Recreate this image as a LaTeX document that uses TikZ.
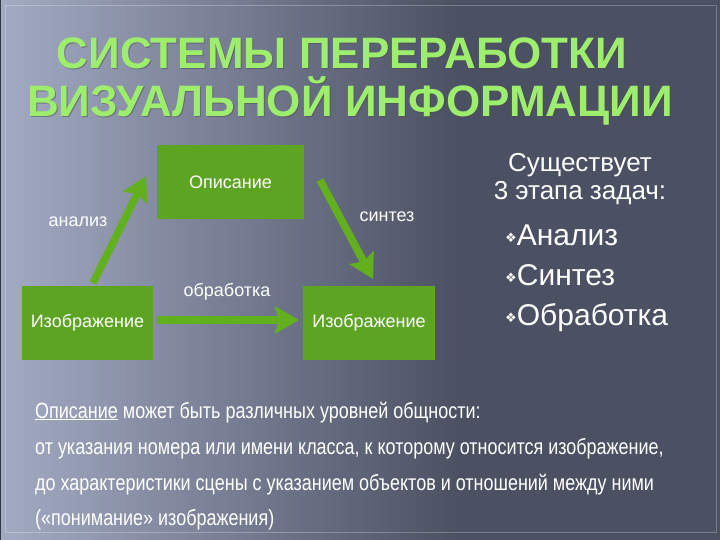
\documentclass[tikz,border=0pt]{standalone}
\usepackage{fontspec}
\setmainfont{Liberation Sans}
\newfontfamily\narrowfont[FakeStretch=0.817]{Liberation Sans}
\newfontfamily\symfont{DejaVu Sans}
\usetikzlibrary{arrows.meta,fadings}
\definecolor{bgdark}{HTML}{4B5062}
\definecolor{bglight}{HTML}{A3ABC3}
\definecolor{boxgreen}{HTML}{5CA422}
\definecolor{arrowgreen}{HTML}{62B01E}
\definecolor{titlegreen}{HTML}{9EEE6E}
\tikzfading[name=streak, left color=transparent!100, middle color=transparent!78, right color=transparent!100]
\tikzset{
  greenbox/.style={fill=boxgreen, minimum width=147pt, minimum height=74pt, inner sep=0pt, text=white, font=\fontsize{18}{21}\selectfont},
  arclabel/.style={text=white, inner sep=0pt, font=\fontsize{18}{21}\selectfont},
  bigarrow/.style={draw=arrowgreen, line width=7.5pt, -{Stealth[length=24pt,width=27pt,inset=4pt]}},
  titletext/.style={inner sep=0pt, anchor=base, font=\fontsize{44}{50}\selectfont\bfseries},
  righttext/.style={text=white, inner sep=0pt, anchor=base, font=\fontsize{26}{30}\selectfont},
  bullettext/.style={text=white, inner sep=0pt, anchor=base west, font=\fontsize{30}{34}\selectfont},
  bodytext/.style={text=white, inner sep=0pt, anchor=base west, font=\narrowfont\fontsize{22}{25}\selectfont}
}
\newcommand{\mybul}{{\symfont\fontsize{13}{14}\selectfont\raisebox{3pt}{❖}}}
\begin{document}
\begin{tikzpicture}[x=1pt,y=-1pt]
\useasboundingbox (0,0) rectangle (720,540);
% background
\fill[bgdark] (0,0) rectangle (720,540);
\shade[left color=bglight, right color=bgdark] (0,0) rectangle (460,540);
\fill[white, path fading=streak, fit fading=true] (120,-10) -- (260,-10) -- (40,560) -- (-100,560) -- cycle;
\draw[white, opacity=0.25, line width=0.8pt] (5,5) rectangle (716,532);
\draw[bgdark!70!black, line width=1.5pt] (0.7,0) -- (0.7,540);
% title
\node[titletext, text=black!70, opacity=0.5] (t1s) at (343,70) {СИСТЕМЫ ПЕРЕРАБОТКИ};
\node[titletext, text=black!70, opacity=0.5] (t2s) at (351,118) {ВИЗУАЛЬНОЙ ИНФОРМАЦИИ};
\node[titletext, text=titlegreen] (t1) at (342,69) {СИСТЕМЫ ПЕРЕРАБОТКИ};
\node[titletext, text=titlegreen] (t2) at (350,117) {ВИЗУАЛЬНОЙ ИНФОРМАЦИИ};
% boxes
\node[greenbox] (desc) at (230.5,182) {Описание};
\node[greenbox, minimum width=131pt] (img1) at (87.5,323) {Изображение};
\node[greenbox, minimum width=132pt] (img2) at (369,323) {Изображение};
% arrow ends
\coordinate (a1s) at (93,283);
\coordinate (a1e) at (146,176);
\coordinate (a2s) at (320,180);
\coordinate (a2e) at (373,279);
\coordinate (a3s) at (157,320);
\coordinate (a3e) at (299,320);
\draw[bigarrow] (a1s) -- (a1e);
\draw[bigarrow] (a2s) -- (a2e);
\draw[bigarrow] (a3s) -- (a3e);
% labels
\node[arclabel] (lan) at (78,222) {анализ};
\node[arclabel] (lsy) at (387,217) {синтез};
\node[arclabel] (lob) at (227,292) {обработка};
% right text
\node[righttext] (r1) at (580,172) {Существует};
\node[righttext] (r2) at (580,200) {3 этапа задач:};
\node[bullettext] (b1) at (505,245) {\mybul Анализ};
\node[bullettext] (b2) at (505,285) {\mybul Синтез};
\node[bullettext] (b3) at (505,325) {\mybul Обработка};
% body text
\node[bodytext] (p1) at (35,418) {\underline{Описание} может быть различных уровней общности:};
\node[bodytext] (p2) at (35,454) {от указания номера или имени класса, к которому относится изображение,};
\node[bodytext] (p3) at (35,490) {до характеристики сцены с указанием объектов и отношений между ними};
\node[bodytext] (p4) at (35,525) {(«понимание» изображения)};
\end{tikzpicture}
\end{document}
